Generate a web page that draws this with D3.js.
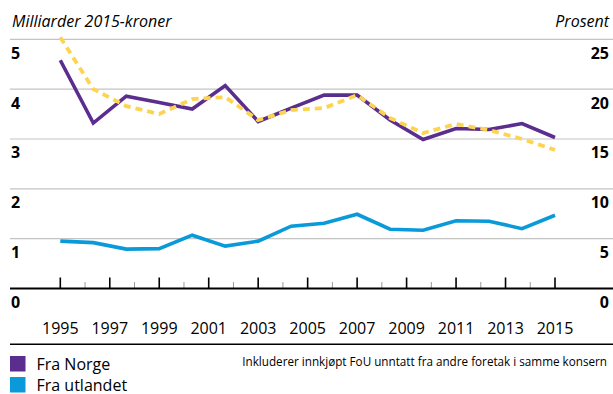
<!DOCTYPE html>
<html>
<head>
<meta charset="utf-8">
<script src="https://cdn.jsdelivr.net/npm/d3@7/dist/d3.min.js"></script>
<style>
  html, body { margin: 0; padding: 0; background: #fff; }
  svg { display: block; font-family: "Open Sans", "Noto Sans", sans-serif; }
</style>
</head>
<body>
<svg id="chart" width="613" height="394"></svg>
<script>
// Innkjøpt FoU, milliarder 2015-kroner (venstre akse) og prosent (høyre akse)
const fraNorge    = [4.58, 3.32, 3.86, 3.73, 3.60, 4.07, 3.35, 3.62, 3.88, 3.88, 3.38, 2.99, 3.21, 3.19, 3.31, 3.03];
const fraUtlandet = [0.95, 0.92, 0.79, 0.80, 1.07, 0.85, 0.95, 1.25, 1.31, 1.49, 1.19, 1.17, 1.36, 1.35, 1.20, 1.47];
const andelProsent = [25.2, 20.0, 18.3, 17.5, 19.0, 19.2, 16.9, 17.9, 18.1, 19.4, 17.1, 15.6, 16.5, 15.9, 15.0, 13.9];

const venstreTicks = [0, 1, 2, 3, 4, 5];
const hoyreTicks = [0, 5, 10, 15, 20, 25];
const aarstall = [1995, 1997, 1999, 2001, 2003, 2005, 2007, 2009, 2011, 2013, 2015];
const mellomAar = [1996, 1998, 2000, 2002, 2004, 2006, 2008, 2010, 2012, 2014];

const serier = [
  { navn: "Fra Norge", farge: "#5b2d8e" },
  { navn: "Fra utlandet", farge: "#0a9ad9" }
];
const gul = "#fdd451";

const svg = d3.select("#chart");
const x0 = 60.3, x1 = 555;

const xIdx = d3.scaleLinear().domain([0, fraNorge.length - 1]).range([x0, x1]);
const xAar = d3.scaleLinear().domain([1995, 2015]).range([x0, x1]);
const yV = d3.scaleLinear().domain([0, 5]).range([288.5, 39.3]);
const yH = d3.scaleLinear().domain([0, 25]).range([288.5, 39.3]);

// Rutenett
svg.append("g").selectAll("line")
  .data(venstreTicks.filter(d => d > 0))
  .join("line")
  .attr("x1", 10).attr("x2", 613)
  .attr("y1", d => yV(d)).attr("y2", d => yV(d))
  .attr("stroke", "#c4c4c4").attr("stroke-width", 1.2);

// Venstre akseverdier
svg.append("g").selectAll("text")
  .data(venstreTicks)
  .join("text")
  .attr("x", 11).attr("y", d => yV(d) + 19.5)
  .attr("font-size", 16).attr("font-weight", 700)
  .text(d => d);

// Høyre akseverdier
svg.append("g").selectAll("text")
  .data(hoyreTicks)
  .join("text")
  .attr("x", 609).attr("y", d => yH(d) + 19.5)
  .attr("text-anchor", "end")
  .attr("font-size", 16).attr("font-weight", 700)
  .text(d => d);

// Aksetitler
svg.append("text").attr("x", 12).attr("y", 26.5)
  .attr("font-size", 16).attr("font-style", "italic")
  .text("Milliarder 2015-kroner");
svg.append("text").attr("x", 609).attr("y", 27)
  .attr("text-anchor", "end")
  .attr("font-size", 16).attr("font-style", "italic")
  .text("Prosent");

// X-akse med hoved- og mellomstreker
svg.append("g").selectAll("line")
  .data(mellomAar)
  .join("line")
  .attr("x1", d => xAar(d)).attr("x2", d => xAar(d))
  .attr("y1", 282).attr("y2", 288)
  .attr("stroke", "#9a9a9a").attr("stroke-width", 1);
svg.append("g").selectAll("line")
  .data(aarstall)
  .join("line")
  .attr("x1", d => xAar(d)).attr("x2", d => xAar(d))
  .attr("y1", 277.5).attr("y2", 288)
  .attr("stroke", "#000").attr("stroke-width", 1.6);
svg.append("line")
  .attr("x1", 10).attr("x2", 613)
  .attr("y1", yV(0)).attr("y2", yV(0))
  .attr("stroke", "#000").attr("stroke-width", 2.2);

svg.append("g").selectAll("text")
  .data(aarstall)
  .join("text")
  .attr("x", d => xAar(d)).attr("y", 333.5)
  .attr("text-anchor", "middle")
  .attr("font-size", 16)
  .text(d => d);

// Skillelinje under figuren
svg.append("line")
  .attr("x1", 10).attr("x2", 613)
  .attr("y1", 344.3).attr("y2", 344.3)
  .attr("stroke", "#000").attr("stroke-width", 1.5);

// Linjer
const linjeV = d3.line().x((d, i) => xIdx(i)).y(d => yV(d));
const linjeH = d3.line().x((d, i) => xIdx(i)).y(d => yH(d));

svg.append("path").datum(fraUtlandet)
  .attr("d", linjeV).attr("fill", "none")
  .attr("stroke", serier[1].farge).attr("stroke-width", 3.6);
svg.append("path").datum(fraNorge)
  .attr("d", linjeV).attr("fill", "none")
  .attr("stroke", serier[0].farge).attr("stroke-width", 3.6);
svg.append("path").datum(andelProsent)
  .attr("d", linjeH).attr("fill", "none")
  .attr("stroke", gul).attr("stroke-width", 3.8)
  .attr("stroke-dasharray", "7,5");

// Tegnforklaring
const leg = svg.append("g").selectAll("g")
  .data(serier)
  .join("g")
  .attr("transform", (d, i) => `translate(10, ${356 + i * 21})`);
leg.append("rect").attr("width", 15.5).attr("height", 15.5)
  .attr("fill", d => d.farge);
leg.append("text").attr("x", 26.5).attr("y", 13.5)
  .attr("font-size", 16)
  .text(d => d.navn);

svg.append("text").attr("x", 607).attr("y", 366)
  .attr("text-anchor", "end")
  .attr("font-size", 11.7)
  .text("Inkluderer innkjøpt FoU unntatt fra andre foretak i samme konsern");
</script>
</body>
</html>
